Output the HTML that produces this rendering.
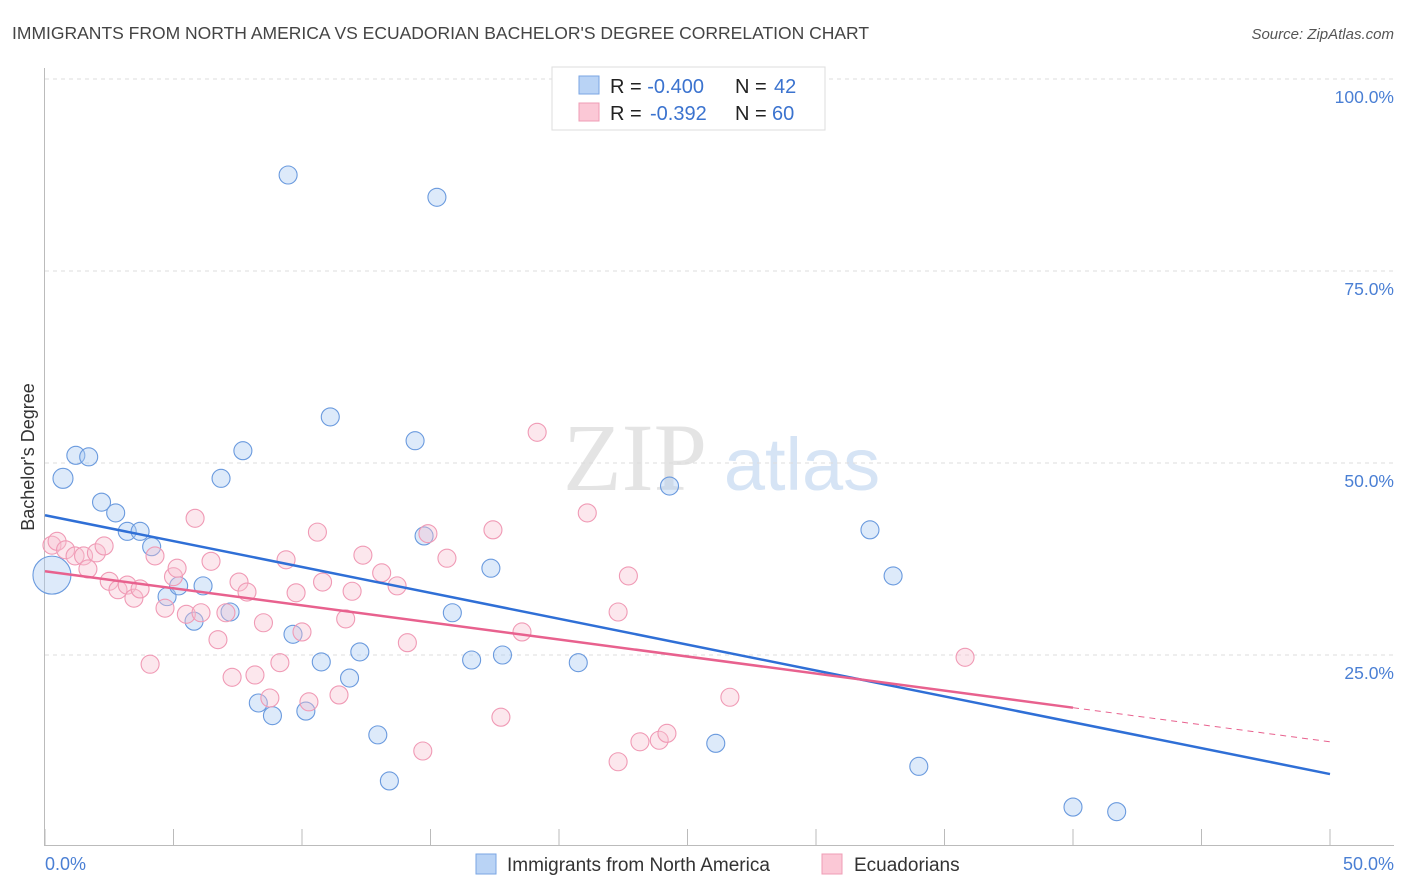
<!DOCTYPE html>
<html><head><meta charset="utf-8"><style>
body{margin:0;background:#fff;font-family:"Liberation Sans",sans-serif;}
svg{display:block}
</style></head><body>
<svg id="chart" width="1406" height="892" xmlns="http://www.w3.org/2000/svg">
<text x="12" y="39" font-size="17.5" fill="#444">IMMIGRANTS FROM NORTH AMERICA VS ECUADORIAN BACHELOR'S DEGREE CORRELATION CHART</text>
<text x="1394" y="39" font-size="15" fill="#555" text-anchor="end" font-style="italic">Source: ZipAtlas.com</text>
<g>
<text x="635" y="490" font-size="96" fill="#e4e4e4" text-anchor="middle" font-family="Liberation Serif,serif">ZIP</text>
<text x="802" y="490" font-size="74" fill="#d6e4f5" text-anchor="middle">atlas</text>
</g>
<g id="grid"></g>
<g id="axes"></g>
<g id="pts"></g>
<g id="trends"></g>
<text transform="translate(34,457) rotate(-90)" font-size="18" fill="#333" text-anchor="middle">Bachelor's Degree</text>
<text x="45" y="870" font-size="18" fill="#4a7fd4">0.0%</text>
<text x="1394" y="870" font-size="18" fill="#4a7fd4" text-anchor="end">50.0%</text>
<g>
<rect x="552" y="67" width="273" height="63" fill="#fff" stroke="#ddd"/>
<rect x="579" y="76" width="20" height="18" fill="#b9d3f5" stroke="#7aa6e3"/>
<rect x="579" y="103" width="20" height="18" fill="#fbc8d6" stroke="#ef9db5"/>
<text x="610" y="93" font-size="20" fill="#222">R = <tspan fill="#3b73cf">-0.400</tspan><tspan x="735">N = </tspan><tspan fill="#3b73cf" x="774">42</tspan></text>
<text x="610" y="120" font-size="20" fill="#222">R = <tspan fill="#3b73cf" x="650">-0.392</tspan><tspan x="735">N = </tspan><tspan fill="#3b73cf" x="772">60</tspan></text>
</g>
<g>
<rect x="476" y="854" width="20" height="20" fill="#b9d3f5" stroke="#7aa6e3"/>
<text x="507" y="871" font-size="19" fill="#333">Immigrants from North America</text>
<rect x="822" y="854" width="20" height="20" fill="#fbc8d6" stroke="#ef9db5"/>
<text x="854" y="871" font-size="19" fill="#333">Ecuadorians</text>
</g>
</svg>
<script>
const blueX=[9.46,15.25,0.7,1.2,1.7,2.2,2.75,3.2,3.7,4.15,0.27,4.75,5.2,5.8,6.15,7.2,6.85,7.7,11.1,14.4,9.65,10.75,12.25,11.85,8.3,8.85,10.15,12.95,13.4,14.75,15.85,16.6,17.35,17.8,20.75,24.3,26.1,32.1,33.0,34.0,40.0,41.7];
const blueY=[87.5,84.6,48.0,51.0,50.8,44.9,43.5,41.1,41.1,39.1,35.4,32.6,34.0,29.4,34.0,30.6,48.0,51.6,56.0,52.9,27.7,24.1,25.4,22.0,18.75,17.1,17.7,14.6,8.6,40.5,30.5,24.35,36.3,25.0,24.0,47.0,13.5,41.3,35.3,10.5,5.2,4.6];
const blueR=[9,9,10,9,9,9,9,9,9,9,19,9,9,9,9,9,9,9,9,9,9,9,9,9,9,9,9,9,9,9,9,9,9,9,9,9,9,9,9,9,9,9];
const pinkX=[0.27,0.47,0.8,1.17,1.5,2.0,1.67,2.3,2.5,2.84,3.2,3.46,3.7,4.28,4.67,5.0,5.14,5.5,5.84,6.07,6.46,6.73,7.04,7.28,7.55,7.86,4.09,8.17,8.5,8.75,9.14,9.38,9.77,10.0,10.27,10.6,10.8,11.44,11.7,11.95,12.37,13.1,13.7,14.1,14.7,14.9,15.64,17.43,17.74,18.56,19.15,21.1,22.3,22.7,22.3,23.15,23.9,24.2,26.65,35.8];
const pinkY=[39.3,39.8,38.7,37.9,37.9,38.3,36.2,39.2,34.6,33.5,34.1,32.4,33.6,37.9,31.1,35.2,36.3,30.3,42.8,30.5,37.2,27.0,30.5,22.1,34.5,33.2,23.8,22.4,29.2,19.4,24.0,37.4,33.1,28.0,18.9,41.0,34.5,19.8,29.7,33.3,38.0,35.7,34.0,26.6,12.5,40.8,37.6,41.3,16.9,28.0,54.0,43.5,30.6,35.3,11.1,13.7,13.9,14.8,19.5,24.7];
const yTicks=[100,75,50,25];
const yTickLabels=["100.0%","75.0%","50.0%","25.0%"];
const xTicks=[0,5,10,15,20,25,30,35,40,45,50];
const blueTrend=[43.2,9.5];
const pinkTrend=[35.9,13.7];
const pinkSolidEnd=40;

const X=v=>45+v*25.7, Y=v=>847-v*7.68;
const NS="http://www.w3.org/2000/svg";
function mk(tag,attrs,parent){const e=document.createElementNS(NS,tag);for(const k in attrs)e.setAttribute(k,attrs[k]);parent.appendChild(e);return e;}
const grid=document.getElementById('grid'),axes=document.getElementById('axes'),pts=document.getElementById('pts'),tr=document.getElementById('trends');
yTicks.forEach((t,i)=>{
 const l=mk('line',{x1:45,x2:1394,y1:Y(t),y2:Y(t),stroke:'#ddd','stroke-dasharray':'4,4'},grid);
 
 
 const tx=mk('text',{x:1394,y:Y(t)+24,'font-size':17.5,fill:'#4a7fd4','text-anchor':'end'},grid);
 tx.textContent=yTickLabels[i];
 
 
});
const ya=mk('line',{x1:44.5,x2:44.5,y1:68,y2:846,stroke:'#bbb'},axes);


const xa=mk('line',{x1:45,x2:1394,y1:845.5,y2:845.5,stroke:'#bbb'},axes);


xTicks.forEach(t=>{
 const l=mk('line',{x1:X(t),x2:X(t),y1:829,y2:846,stroke:'#bbb'},axes);
 
 
});
blueX.forEach((v,i)=>{
 const c=mk('circle',{cx:X(v),cy:Y(blueY[i]),r:blueR[i],fill:'rgba(170,202,242,0.4)',stroke:'#6a9ade','stroke-width':1.1},pts);
 
 
});
pinkX.forEach((v,i)=>{
 const c=mk('circle',{cx:X(v),cy:Y(pinkY[i]),r:9,fill:'rgba(248,192,208,0.38)',stroke:'#f09ab5','stroke-width':1.1},pts);
 
 
});
const pAt=x=>pinkTrend[0]+(pinkTrend[1]-pinkTrend[0])*x/50;
const b=mk('line',{x1:X(0),y1:Y(blueTrend[0]),x2:X(50),y2:Y(blueTrend[1]),stroke:'#2f6fd6','stroke-width':2.5},tr);


const p=mk('line',{x1:X(0),y1:Y(pAt(0)),x2:X(pinkSolidEnd),y2:Y(pAt(pinkSolidEnd)),stroke:'#e8618e','stroke-width':2.5},tr);


const pd=mk('line',{x1:X(pinkSolidEnd),y1:Y(pAt(pinkSolidEnd)),x2:X(50),y2:Y(pAt(50)),stroke:'#e8618e','stroke-width':1,'stroke-dasharray':'6,5'},tr);


</script>
</body></html>
